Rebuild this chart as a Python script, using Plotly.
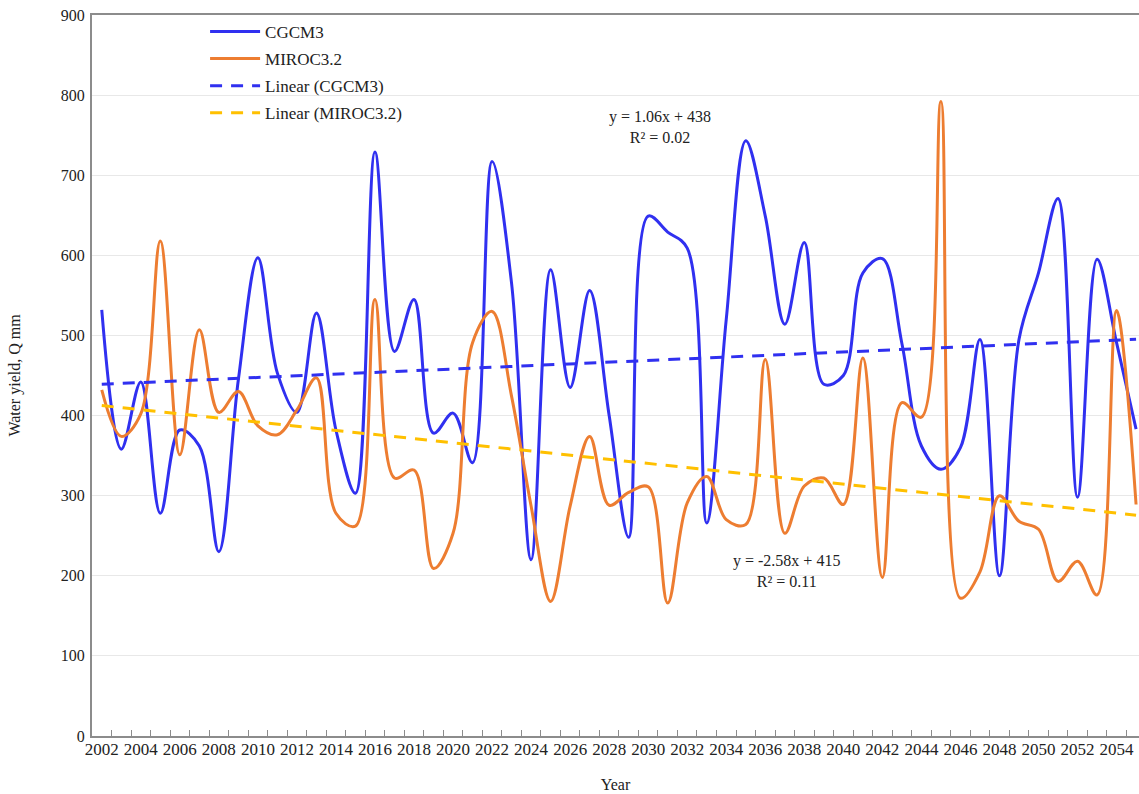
import plotly.graph_objects as go

years = list(range(2002, 2056))

cgcm3 = [532, 358, 442, 278, 382, 362, 230, 445, 597, 453,
         404, 528, 382, 303, 729, 480, 545, 378, 403, 341,
         717, 565, 220, 582, 435, 556, 400, 248, 649, 629,
         609, 266, 520, 743, 649, 514, 616, 439, 450, 578,
         596, 490, 362, 333, 360, 495, 200, 495, 578, 671,
         298, 595, 491, 383]

miroc32 = [432, 374, 402, 618, 351, 507, 404, 430, 387, 376,
           407, 447, 278, 262, 545, 322, 332, 209, 253, 491,
           530, 424, 287, 168, 287, 374, 288, 304, 311, 166,
           291, 324, 270, 264, 470, 253, 312, 322, 289, 472,
           198, 416, 398, 792, 172, 205, 300, 268, 258, 193,
           218, 176, 531, 289]

# trendline coefficients as printed on the chart (x = category index 1..54)
cgcm3_slope, cgcm3_intercept = 1.06, 438
miroc_slope, miroc_intercept = -2.58, 415

y_ticks = list(range(0, 1000, 100))
x_label_years = list(range(2002, 2056, 2))

BLUE = "#3030F0"
ORANGE = "#ED7D31"
GOLD = "#FFC000"
FONT = "Liberation Serif"
XRANGE = [2001.5, 2055.15]

idx = list(range(1, len(years) + 1))
cgcm3_trend = [cgcm3_slope * i + cgcm3_intercept for i in idx]
miroc_trend = [miroc_slope * i + miroc_intercept for i in idx]

fig = go.Figure()
fig.add_trace(go.Scatter(x=years, y=cgcm3, mode="lines", name="CGCM3",
                         legendgroup="a",
                         line=dict(color=BLUE, width=3, shape="spline", smoothing=1.0)))
fig.add_trace(go.Scatter(x=years, y=miroc32, mode="lines", name="MIROC3.2",
                         legendgroup="b",
                         line=dict(color=ORANGE, width=3, shape="spline", smoothing=1.0)))
fig.add_trace(go.Scatter(x=years, y=cgcm3_trend, mode="lines", name="Linear (CGCM3)",
                         legendgroup="c",
                         line=dict(color=BLUE, width=3, dash="12px,9px")))
fig.add_trace(go.Scatter(x=years, y=miroc_trend, mode="lines", name="Linear (MIROC3.2)",
                         legendgroup="d",
                         line=dict(color=GOLD, width=3, dash="12px,9px")))
# invisible trace so the tick-mark axis is drawn
fig.add_trace(go.Scatter(x=[years[0]], y=[None], xaxis="x2", showlegend=False,
                         hoverinfo="skip", mode="lines"))

fig.add_annotation(x=2030.6, y=760, xref="x", yref="y",
                   text="y = 1.06x + 438<br>R² = 0.02", showarrow=False,
                   font=dict(family=FONT, size=16, color="#222"), align="center")
fig.add_annotation(x=2037.1, y=206, xref="x", yref="y",
                   text="y = -2.58x + 415<br>R² = 0.11", showarrow=False,
                   font=dict(family=FONT, size=16, color="#222"), align="center")

fig.update_layout(
    width=1139, height=794,
    margin=dict(l=92, r=0, t=15, b=58),
    paper_bgcolor="white", plot_bgcolor="white",
    font=dict(family=FONT, color="#222"),
    showlegend=True,
    legend=dict(x=0.108, y=1.0015, xanchor="left", yanchor="top",
                bgcolor="rgba(0,0,0,0)", font=dict(family=FONT, size=17, color="#222"),
                tracegroupgap=2, itemwidth=50, traceorder="grouped"),
    xaxis=dict(
        range=XRANGE, automargin=False,
        tickmode="array", tickvals=x_label_years, ticktext=[str(v) for v in x_label_years],
        ticks="", showgrid=False, zeroline=False,
        showline=True, linecolor="#8c8c8c", linewidth=2, mirror=True,
        tickfont=dict(family=FONT, size=17, color="#222"), ticklabelstandoff=-3,
        title=dict(text="Year", font=dict(family=FONT, size=16, color="#222"), standoff=20),
    ),
    xaxis2=dict(
        range=XRANGE, overlaying="x", anchor="y", side="bottom", automargin=False,
        tickmode="linear", tick0=2001.5, dtick=1,
        ticks="inside", ticklen=6, tickcolor="#8c8c8c", tickwidth=1,
        showticklabels=False, showgrid=False, zeroline=False, showline=False,
    ),
    yaxis=dict(
        range=[0, 900], tickmode="array", tickvals=y_ticks, automargin=False,
        ticks="", showgrid=True, gridcolor="#e8e8e8", gridwidth=1, zeroline=False,
        showline=True, linecolor="#8c8c8c", linewidth=2,
        tickfont=dict(family=FONT, size=16, color="#222"), ticklabelstandoff=2,
        title=dict(text="Water yield, Q mm", font=dict(family=FONT, size=16, color="#222"), standoff=36),
    ),
)

fig.write_html("out.html", config={"displayModeBar": False},
               post_script="document.body.style.margin='0px';document.body.style.overflow='hidden';")
